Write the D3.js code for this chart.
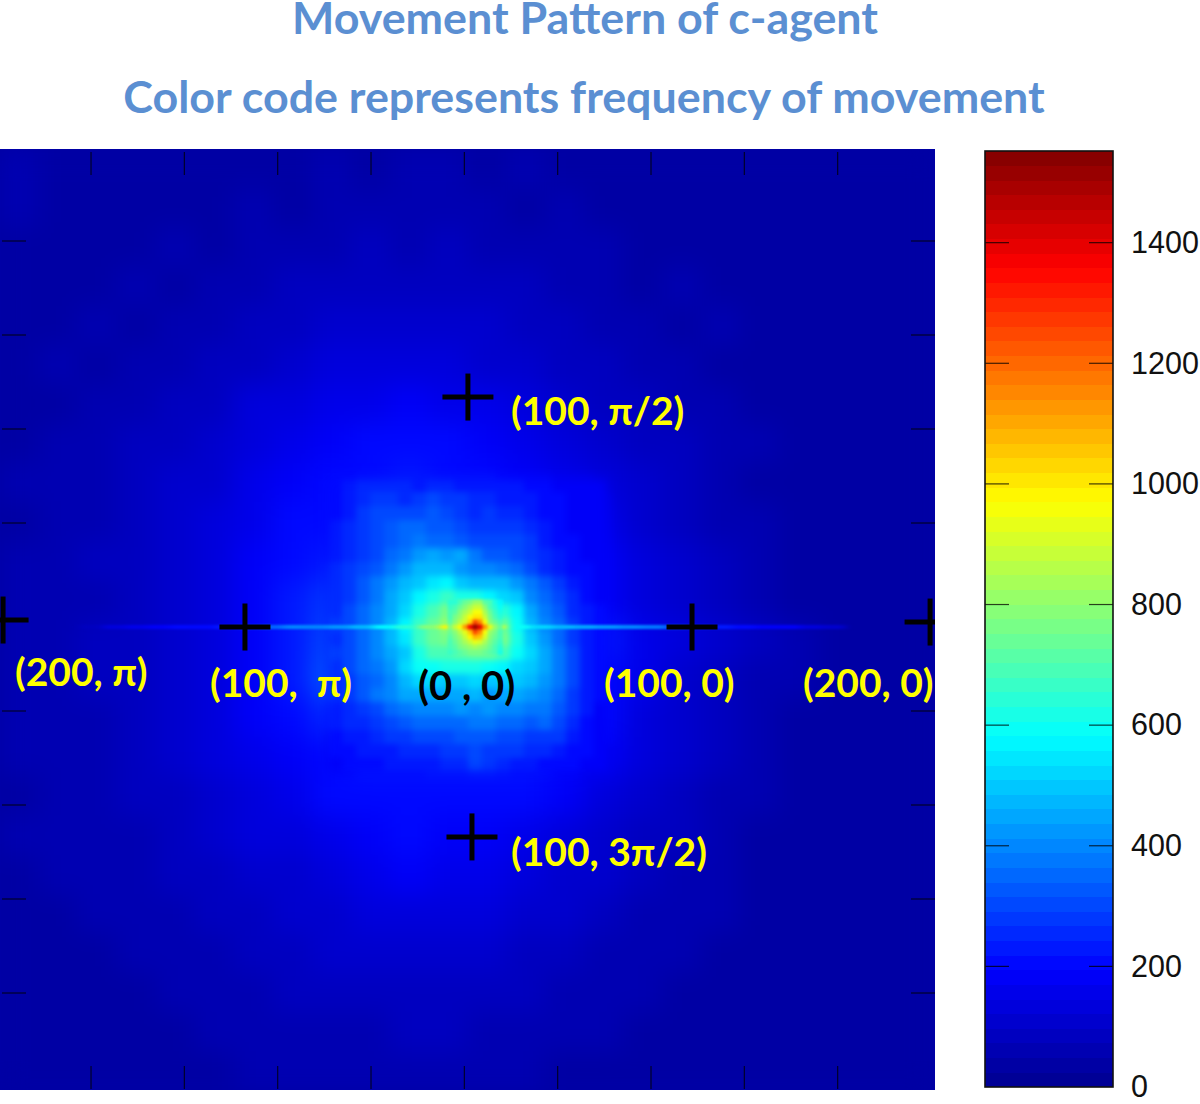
<!DOCTYPE html>
<html><head><meta charset="utf-8">
<script src="https://cdnjs.cloudflare.com/ajax/libs/d3/7.8.5/d3.min.js"></script>
<style>html,body{margin:0;padding:0;background:#fff}svg{display:block}</style></head>
<body><svg id="c" width="1200" height="1104"></svg>
<script>
const titleLines = ["Movement Pattern of c-agent", "Color code represents frequency of movement"];
const colorbarTicks = [0,200,400,600,800,1000,1200,1400];
const colorMax = 1552;
const tickIndex = [1,2,3,4,5,6,7,8,9];

// Whole field, coarse reading of the frequency
const fieldCoarse = [
[65,45,35,30,35,40,35,45,50,45,55,50,40,50,35,45,30,35,30,25,35,25,30,35],
[50,30,35,40,35,45,50,45,60,55,65,50,60,45,50,40,45,30,35,35,25,30,35,25],
[40,35,45,35,50,45,60,70,65,80,70,75,65,70,50,55,40,45,30,40,35,25,30,30],
[35,45,35,50,45,65,65,85,80,95,85,90,80,80,65,65,45,50,35,35,40,30,35,25],
[45,35,50,45,65,65,90,90,110,105,115,100,105,90,90,65,65,45,50,35,35,40,25,35],
[35,50,45,60,65,90,95,120,125,140,130,135,120,115,95,90,65,65,45,45,30,35,40,25],
[45,40,60,60,85,95,125,135,160,160,175,160,155,130,120,90,85,60,60,40,45,30,35,35],
[40,55,55,80,85,120,135,165,175,195,195,200,170,160,125,115,80,75,55,55,35,40,30,35],
[50,50,70,75,105,120,160,170,200,210,230,210,200,170,155,125,105,75,65,45,45,35,40,30],
[45,60,65,90,100,140,160,195,210,255,250,240,225,210,180,150,115,95,70,55,40,40,30,35],
[55,55,75,85,115,135,175,200,240,300,330,310,280,250,210,170,130,100,75,55,45,35,35,30],
[50,65,70,90,110,140,175,220,280,350,420,400,350,300,250,190,145,110,85,60,45,40,30,35],
[55,60,75,85,115,140,185,235,300,400,600,650,450,350,300,220,150,125,100,80,50,40,35,30],
[55,65,75,95,115,145,185,240,320,400,520,500,420,360,290,215,150,120,95,70,50,35,40,30],
[50,60,70,90,110,140,175,195,260,330,390,380,340,300,260,205,145,115,85,65,45,40,30,35],
[50,55,70,80,105,130,160,175,215,225,235,235,230,220,200,170,125,100,75,55,45,35,35,30],
[45,55,65,80,95,120,145,160,195,205,215,215,205,195,175,135,105,85,60,55,40,40,30,30],
[50,50,60,70,90,105,125,130,160,190,195,190,185,165,140,115,95,75,60,45,45,35,35,25],
[40,50,55,65,75,95,105,115,140,165,170,165,155,140,120,100,85,65,55,45,35,35,30,30],
[45,40,50,60,70,80,95,105,120,135,140,135,130,115,105,90,70,60,50,40,40,30,30,25],
[35,45,45,55,60,70,80,90,100,110,115,115,105,95,85,70,65,50,45,40,30,35,25,30],
[40,35,45,45,55,60,65,75,80,90,95,90,85,75,65,60,50,45,40,30,35,25,30,25],
[35,40,35,45,45,50,55,60,65,70,75,75,70,60,55,50,40,40,30,35,25,30,25,25],
[40,35,40,35,45,40,50,50,55,60,55,60,50,50,40,45,35,30,35,25,30,25,25,30]
];
// Central blob, finer reading
const fieldCentre = [
[190,200,215,225,235,240,235,235,240,230,225,225,220,215,210,205,195,185,175,170,165,165],
[200,205,225,250,245,255,245,240,245,250,240,235,225,225,220,210,200,190,180,175,170,165],
[205,215,235,265,275,285,265,275,300,285,270,250,245,240,235,225,205,195,185,175,170,170],
[205,215,240,280,300,310,300,300,320,315,285,265,270,255,245,240,215,200,185,180,175,170],
[210,225,250,285,310,320,345,340,330,335,300,285,280,290,280,255,225,205,190,180,175,170],
[210,230,255,280,300,335,340,370,360,345,335,310,310,300,300,275,240,215,195,185,175,170],
[215,235,260,285,305,340,370,420,450,420,440,370,330,320,310,290,255,220,200,190,175,170],
[220,245,280,300,330,370,430,480,470,470,420,400,390,370,345,310,265,235,215,195,180,170],
[225,250,285,320,370,420,470,500,540,560,500,470,470,480,420,370,320,280,235,205,185,175],
[225,255,290,330,380,440,490,560,620,660,620,620,580,520,490,410,340,300,250,215,190,175],
[235,260,300,340,390,460,530,620,700,760,830,950,830,650,560,440,370,320,265,220,195,180],
[240,270,310,350,410,480,560,660,750,820,900,1000,900,730,600,470,400,340,280,225,195,180],
[235,265,310,345,400,470,540,660,730,770,850,1000,850,770,610,490,420,350,285,235,195,180],
[240,270,315,355,400,440,500,620,690,700,720,750,750,690,590,510,450,370,300,235,200,180],
[235,265,300,340,370,420,520,590,600,620,630,620,600,570,530,500,440,370,295,235,200,180],
[225,260,290,320,350,400,480,530,520,500,500,510,500,490,500,480,430,365,295,235,195,180],
[220,255,290,320,370,390,440,460,460,460,450,470,430,450,450,430,400,350,290,225,195,175],
[210,240,265,290,310,340,380,400,400,400,420,400,420,410,400,380,375,335,275,225,190,175],
[200,225,245,265,285,300,320,340,340,360,350,370,370,350,345,330,345,305,250,215,190,170],
[190,210,225,240,255,270,285,300,300,310,320,325,320,310,300,290,290,275,240,205,180,170],
[180,195,205,220,230,240,255,265,265,280,290,300,290,280,270,260,250,240,215,195,175,165],
[175,185,195,205,215,220,230,235,240,250,265,300,280,250,235,225,215,210,195,180,170,160],
[170,175,185,195,200,205,210,215,220,225,240,265,250,230,215,205,195,185,175,165,160,155]
];
// Peak, finest reading
const fieldCore = [
[640,650,690,730,760,820,820,720,680,620,560],
[660,690,740,790,830,880,890,780,700,640,590],
[680,720,780,840,880,960,950,830,740,670,610],
[700,760,820,880,950,1010,1000,880,770,700,640],
[720,780,850,920,1040,1250,1150,950,800,740,680],
[800,880,960,1120,1380,1520,1400,1130,930,820,730],
[730,800,860,940,1050,1240,1160,960,820,760,690],
[720,770,820,890,990,1090,1060,900,790,740,680],
[700,750,790,830,890,930,900,830,770,720,660],
[680,720,760,790,810,830,820,790,750,700,640],
[660,690,720,740,760,770,760,740,710,680,620]
];
// Horizontal streak through the origin
const streakDistance = [-170,-160,-150,-140,-130,-120,-110,-100,-90,-80,-70,-60,-50,-40,-30,-20,-10,0,10,20,30,40,50,60,70,80,90,100,110,120,130,140,150,160];
const streakValue = [90,130,160,180,195,210,230,300,350,390,410,430,470,560,650,800,980,1100,900,600,520,480,440,420,400,370,320,260,230,210,190,170,140,110];

const markers = [[-2.7,102.2],[96.9,0],[-101.8,0],[-0.9,-93.3],[-209.3,3.1],[202.7,2.2]];
const labels = [
 {t:"(100, \u03c0/2)",c:"#ffff00",s:39},{t:"(200, \u03c0)",c:"#ffff00",s:39},{t:"(100,  \u03c0)",c:"#ffff00",s:39},
 {t:"(0 , 0)",c:"#000",s:40},{t:"(100, 0)",c:"#ffff00",s:39},{t:"(200, 0)",c:"#ffff00",s:39},{t:"(100, 3\u03c0/2)",c:"#ffff00",s:39}];
const labelAt = [[511,425],[15,686],[210,697],[418,700],[604,697],[803,697],[511,866]];

const P={l:0,r:935,t:149,b:1090}, B={l:985,r:1113,t:151,b:1087};
const svg=d3.select("#c");
const defs=svg.append("defs");
defs.append("clipPath").attr("id","plot").append("rect").attr("x",P.l).attr("y",P.t).attr("width",P.r-P.l).attr("height",P.b-P.t);
function blur(id,sx,sy){
  defs.append("filter").attr("id",id).attr("filterUnits","userSpaceOnUse").attr("x",-100).attr("y",0).attr("width",1300).attr("height",1200)
   .attr("color-interpolation-filters","sRGB").append("feGaussianBlur").attr("stdDeviation",sx+" "+sy);
}
blur("bA",13,13);blur("bB",3,3);blur("bC",1.4,1.4);blur("bD",4,0.8);blur("bM",7,7);

// MATLAB "jet" with 64 levels
const jetStops=d3.scaleLinear().domain([0,8,24,40,56,64].map(d=>d/64))
  .range(["#00008f","#0000ff","#00ffff","#ffff00","#ff0000","#800000"]).clamp(true);
const levels=d3.range(64);
const palette=levels.map(i=>jetStops((i+0.5)/64));
const color=d3.scaleQuantize().domain([0,colorMax]).range(palette);

const centreBox=[314,622,464,786];
const mask=defs.append("mask").attr("id","fade").attr("maskUnits","userSpaceOnUse").attr("x",0).attr("y",0).attr("width",1200).attr("height",1104);
mask.append("rect").attr("x",centreBox[0]+14).attr("y",centreBox[2]+14)
  .attr("width",centreBox[1]-centreBox[0]-28).attr("height",centreBox[3]-centreBox[2]-28)
  .attr("fill","#fff").attr("filter","url(#bM)");

const plot=svg.append("g").attr("clip-path","url(#plot)");
plot.append("rect").attr("x",P.l).attr("y",P.t).attr("width",P.r-P.l).attr("height",P.b-P.t).attr("fill",color(40));

function grid(parent,values,x0,x1,y0,y1,filter){
  const x=d3.scaleBand().domain(d3.range(values[0].length)).range([x0,x1]);
  const y=d3.scaleBand().domain(d3.range(values.length)).range([y0,y1]);
  parent.append("g").attr("filter","url(#"+filter+")").selectAll("g").data(values).join("g")
    .attr("transform",(d,i)=>`translate(0,${y(i)})`)
    .selectAll("rect").data(d=>d).join("rect")
    .attr("x",(d,i)=>x(i)).attr("y",0).attr("width",x.bandwidth()+0.5).attr("height",y.bandwidth()+0.5)
    .attr("fill",d=>color(d));
}
grid(plot,fieldCoarse,P.l,P.r,P.t,P.b,"bA");
grid(plot.append("g").attr("mask","url(#fade)"),fieldCentre,...centreBox,"bB");

const xS=d3.scaleLinear().domain([-100,100]).range([249,699]);
const yS=d3.scaleLinear().domain([-100,100]).range([852,402]);
const streakStep=22.5;
plot.append("g").attr("filter","url(#bD)").selectAll("rect").data(streakDistance).join("rect")
  .attr("x",d=>xS(d)-streakStep/2).attr("width",streakStep).attr("y",yS(0)-2.1).attr("height",4.2)
  .attr("fill",(d,i)=>color(streakValue[i]));
grid(plot,fieldCore,447.5,502.5,599.5,654.5,"bC");

// frame ticks of the map
const tx=d3.scaleLinear().domain([0,10]).range([-2.3,931]);
const ty=d3.scaleLinear().domain([0,10]).range([147,1087]);
const ticks=svg.append("g").attr("stroke","#000").attr("stroke-width",1.2).attr("stroke-opacity",.75);
[[152,175],[1066,1089]].forEach(([a,b])=>ticks.append("g").selectAll("line").data(tickIndex).join("line")
  .attr("x1",d=>tx(d)).attr("x2",d=>tx(d)).attr("y1",a).attr("y2",b));
[[2,26],[911,935]].forEach(([a,b])=>ticks.append("g").selectAll("line").data(tickIndex.filter(d=>d!==5)).join("line")
  .attr("y1",d=>ty(d)).attr("y2",d=>ty(d)).attr("x1",a).attr("x2",b));

// cross markers
const crosses=plot.append("g").attr("stroke","#000").attr("stroke-width",5);
crosses.selectAll("g").data(markers).join("g").each(function(d){
  const g=d3.select(this),cx=xS(d[0]),cy=yS(d[1]);
  g.append("line").attr("x1",cx-25.5).attr("x2",cx+25.5).attr("y1",cy).attr("y2",cy);
  g.append("line").attr("x1",cx).attr("x2",cx).attr("y1",cy-23.5).attr("y2",cy+23.5);
});

// annotation labels
svg.append("g").attr("font-family","Lato, 'Open Sans', sans-serif").attr("font-weight",700)
 .selectAll("text").data(labels).join("text")
 .attr("x",(d,i)=>labelAt[i][0]).attr("y",(d,i)=>labelAt[i][1]).attr("font-size",d=>d.s)
 .attr("fill",d=>d.c).style("white-space","pre").text(d=>d.t);

// titles
svg.append("g").attr("font-family","Lato, 'Open Sans', sans-serif").attr("font-weight",700).attr("font-size",44.8)
 .attr("fill","#5b8fd2").attr("text-anchor","middle")
 .selectAll("text").data(titleLines).join("text").attr("x",(d,i)=>i?584:585).attr("y",(d,i)=>i?113:34).text(d=>d);

// colour bar
const cb=d3.scaleLinear().domain([0,colorMax]).range([B.b,B.t]);
const bar=svg.append("g");
const lvlH=(B.b-B.t)/64;
bar.selectAll("rect").data(levels).join("rect").attr("x",B.l).attr("width",B.r-B.l)
  .attr("y",i=>cb(colorMax*(i+1)/64)).attr("height",lvlH+0.3).attr("fill",i=>palette[i]).attr("shape-rendering","crispEdges");
bar.append("g").attr("stroke","#000").attr("stroke-opacity",.75).attr("stroke-width",1.2)
  .selectAll("g").data(colorbarTicks.slice(1)).join("g").each(function(d){
    const g=d3.select(this);
    g.append("line").attr("x1",B.l).attr("x2",B.l+24).attr("y1",cb(d)).attr("y2",cb(d));
    g.append("line").attr("x1",B.r-24).attr("x2",B.r).attr("y1",cb(d)).attr("y2",cb(d));
  });
bar.append("rect").attr("x",B.l).attr("y",B.t).attr("width",B.r-B.l).attr("height",B.b-B.t)
  .attr("fill","none").attr("stroke","#111").attr("stroke-width",1.6);
const ax=d3.axisRight(cb).tickValues(colorbarTicks).tickSize(0).tickPadding(18).tickFormat(d3.format("d"));
const ag=svg.append("g").attr("transform",`translate(${B.r},0)`).call(ax);
ag.select(".domain").remove();
ag.selectAll("text").attr("font-family","'Liberation Sans',Arial,sans-serif").attr("font-size",30.5).attr("fill","#111");
</script></body></html>
